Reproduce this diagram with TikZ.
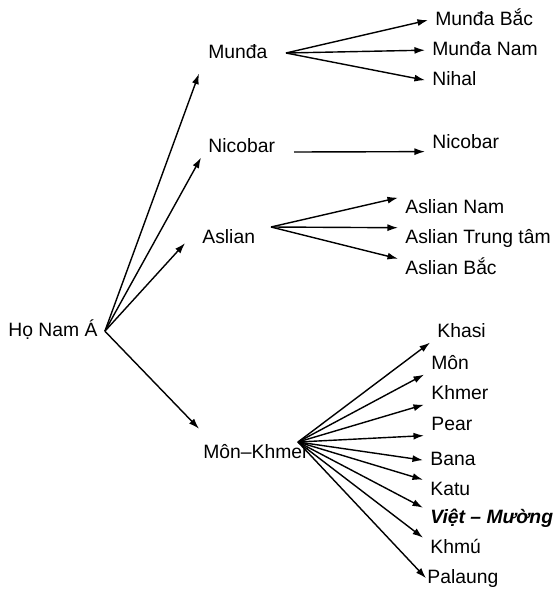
\documentclass[tikz,border=0pt]{standalone}
\usepackage{fontspec}
\setmainfont{Liberation Sans}
\usetikzlibrary{arrows.meta}

\begin{document}
\begin{tikzpicture}[x=0.02cm, y=-0.02cm,
  lang/.style={anchor=base west, inner xsep=4pt, inner ysep=1pt,
    text height=0.75em, text depth=0.2em, font=\fontsize{11}{13}\selectfont},
  arr/.style={-{Latex[length=6pt,width=4pt]}, line width=0.8pt}]
\useasboundingbox (0,0) rectangle (557,589);

\node[lang] (root) at (1, 336) {Họ Nam Á};

\node[lang] (munda) at (201, 58) {Munđa};
\node[lang] (nicobar) at (201, 152) {Nicobar};
\node[lang] (aslian) at (195, 243) {Aslian};
\node[lang] (monkhmer) at (196, 458) {Môn–Khmer};

\node[lang] (mundabac) at (428, 25) {Munđa Bắc};
\node[lang] (mundanam) at (425, 55) {Munđa Nam};
\node[lang] (nihal) at (425, 85) {Nihal};

\node[lang] (nicobarR) at (425, 148) {Nicobar};

\node[lang] (asliannam) at (398, 213) {Aslian Nam};
\node[lang] (asliantt) at (398, 243) {Aslian Trung tâm};
\node[lang] (aslianbac) at (398, 274) {Aslian Bắc};

\node[lang] (khasi) at (430, 337) {Khasi};
\node[lang] (mon) at (424, 369) {Môn};
\node[lang] (khmer) at (424, 399) {Khmer};
\node[lang] (pear) at (424, 430) {Pear};
\node[lang] (bana) at (423, 465) {Bana};
\node[lang] (katu) at (423, 495) {Katu};
\node[lang] (vietmuong) at (423, 523) {\bfseries\itshape Việt – Mường};
\node[lang] (khmu) at (423, 553) {Khmú};
\node[lang] (palaung) at (420, 583) {Palaung};

\coordinate (mundafan) at (286, 53);
\coordinate (nicobarfan) at (294, 152);
\coordinate (aslianfan) at (271, 227);
\coordinate (mkfan) at (298, 442);

\draw[arr] (root.east) -- ([shift={(-2,10)}]munda.south west);
\draw[arr] (root.east) -- (nicobar.south west);
\draw[arr] (root.east) -- ([shift={(-10,5)}]aslian.west);
\draw[arr] (root.east) -- ([shift={(3,-14)}]monkhmer.north west);

\draw[arr] (mundafan) -- (mundabac.west);
\draw[arr] (mundafan) -- (mundanam.west);
\draw[arr] (mundafan) -- (nihal.west);

\draw[arr] (nicobarfan) -- ([shift={(0,-2)}]nicobarR.south west);

\draw[arr] (aslianfan) -- (asliannam.north west);
\draw[arr] (aslianfan) -- (asliantt.north west);
\draw[arr] (aslianfan) -- (aslianbac.north west);

\draw[arr] (mkfan) -- (khasi.south west);
\draw[arr] (mkfan) -- (mon.south west);
\draw[arr] (mkfan) -- (khmer.south west);
\draw[arr] (mkfan) -- (pear.south west);
\draw[arr] (mkfan) -- (bana.west);
\draw[arr] (mkfan) -- (katu.north west);
\draw[arr] (mkfan) -- (vietmuong.north west);
\draw[arr] (mkfan) -- (khmu.north west);
\draw[arr] (mkfan) -- ([shift={(6,0)}]palaung.west);

\end{tikzpicture}
\end{document}
